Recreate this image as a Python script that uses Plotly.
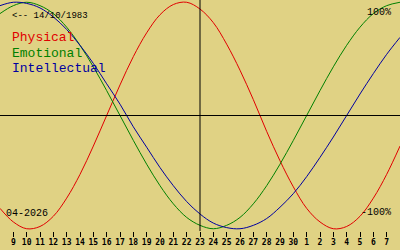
import plotly.graph_objects as go

# ---- data ----
days = list(range(8, 39))  # April 8 .. May 8 (31+ = May)
tick_days = list(range(9, 38))
tick_labels = [str(d) for d in range(9, 31)] + [str(d) for d in range(1, 8)]
physical = [-0.82, -0.94, -1.00, -0.98, -0.89, -0.73, -0.52, -0.27, 0.00, 0.27,
            0.52, 0.73, 0.89, 0.98, 1.00, 0.94, 0.82, 0.63, 0.40, 0.14,
            -0.14, -0.40, -0.63, -0.82, -0.94, -1.00, -0.98, -0.89, -0.73, -0.52, -0.27]
emotional = [0.90, 0.97, 1.00, 0.97, 0.90, 0.78, 0.62, 0.43, 0.22, 0.00,
             -0.22, -0.43, -0.62, -0.78, -0.90, -0.97, -1.00, -0.97, -0.90, -0.78,
             -0.62, -0.43, -0.22, 0.00, 0.22, 0.43, 0.62, 0.78, 0.90, 0.97, 1.00]
intellectual = [0.97, 1.00, 0.99, 0.95, 0.87, 0.76, 0.62, 0.46, 0.28, 0.10,
                -0.10, -0.28, -0.46, -0.62, -0.76, -0.87, -0.95, -0.99, -1.00, -0.97,
                -0.91, -0.81, -0.69, -0.54, -0.37, -0.19, 0.00, 0.19, 0.37, 0.54, 0.69]
today_day = 23
birth_label = "<-- 14/10/1983"
month_label = "04-2026"
series_names = ["Physical", "Emotional", "Intellectual"]
series_colors = ["#E00000", "#008000", "#0000A0"]

BG = "#E0D284"
MONO = "Liberation Mono, DejaVu Sans Mono, monospace"

fig = go.Figure()
for name, vals, col in zip(series_names, [physical, emotional, intellectual], series_colors):
    fig.add_trace(go.Scatter(x=days, y=vals, mode="lines", name=name,
                             line=dict(color=col, width=1, shape="spline"),
                             hoverinfo="skip"))

fig.add_shape(type="line", xref="x", yref="paper", x0=today_day, x1=today_day,
              y0=0, y1=1, line=dict(color="black", width=1), layer="above")
fig.add_shape(type="line", xref="paper", yref="y", x0=0, x1=1, y0=0, y1=0,
              line=dict(color="black", width=1), layer="above")

ann = []
ann.append(dict(text=birth_label, x=0.025, y=1 - 16/231, font=dict(size=9)))
for i, (name, col) in enumerate(zip(series_names, series_colors)):
    ann.append(dict(text=name, x=0.025, y=1 - (38 + 15*i)/231,
                    font=dict(size=13, color=col)))
ann.append(dict(text=month_label, x=0.01, y=1 - 213/231, font=dict(size=10)))
for a in ann:
    a.update(xref="paper", yref="paper", xanchor="left", yanchor="middle", showarrow=False)
    a["font"].setdefault("color", "black")
    a["font"]["family"] = MONO
for t, yy in [("100%", 12), ("-100%", 212)]:
    ann.append(dict(text=t, x=393/400, y=1 - yy/231, xref="paper", yref="paper",
                    xanchor="right", yanchor="middle", showarrow=False,
                    font=dict(size=10, color="black", family=MONO)))

fig.update_layout(
    width=400, height=250,
    margin=dict(l=0, r=0, t=0, b=19),
    paper_bgcolor=BG, plot_bgcolor=BG,
    showlegend=False,
    annotations=ann,
    xaxis=dict(range=[8, 38], tickvals=tick_days, ticktext=tick_labels,
               ticks="outside", ticklen=5, tickcolor="black", tickwidth=1,
               ticklabelstandoff=-2,
               showgrid=False, zeroline=False, showline=False,
               tickfont=dict(size=8, color="black", family="DejaVu Sans Mono",
                             weight="bold")),
    yaxis=dict(range=[-1.02, 1.02], showticklabels=False, showgrid=False,
               zeroline=False, showline=False, ticks=""),
)

fig.write_html("out.html")
